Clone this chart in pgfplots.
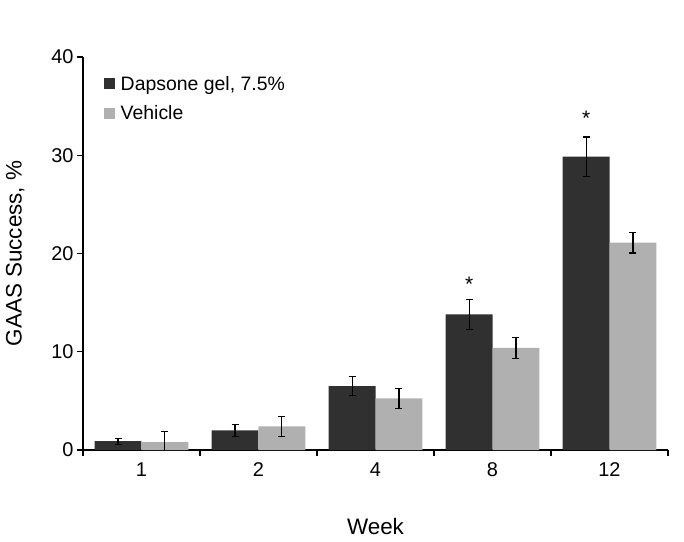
\documentclass[border=0pt]{standalone}
\usepackage{fontspec}
\setmainfont{Liberation Sans}
\usepackage{pgfplots}
\pgfplotsset{compat=1.18}
\definecolor{darkbar}{HTML}{303030}
\definecolor{lightbar}{HTML}{B0B0B0}

\begin{document}
\begin{tikzpicture}
\path[use as bounding box] (-83bp,-92bp) rectangle (601bp,450bp);
\begin{axis}[
    scale only axis, width=585bp, height=393bp,
    ybar=0pt, bar width=0.4,
    xmin=-0.5, xmax=4.5, ymin=0, ymax=40,
    axis x line*=bottom, axis y line*=left,
    xtick={0,1,2,3,4}, xticklabels={1,2,4,8,12},
    major x tick style={draw=none},
    minor xtick={-0.5,0.5,1.5,2.5,3.5,4.5},
    ytick={0,10,20,30,40},
    tick align=outside, major tick length=6bp, minor tick length=6bp,
    every tick/.style={black, line width=1.2bp},
    axis line style={black, line width=1.4bp},
    /pgf/number format/assume math mode=true,
    tick label style={font=\fontsize{20}{23}\selectfont},
    xticklabel style={yshift=-3bp},
    ylabel={GAAS Success, \%},
    xlabel={Week},
    label style={font=\fontsize{22.5}{26}\selectfont},
    ylabel style={at={(axis description cs:-0.116,0.5)}, anchor=center},
    xlabel style={at={(axis description cs:0.5,-0.194)}, anchor=center},
    legend style={at={(axis description cs:0.03,0.962)}, anchor=north west,
      draw=none, fill=none, font=\fontsize{19.5}{22}\selectfont,
      row sep=10bp, cells={anchor=west}},
    legend image code/.code={\fill[#1] (0bp,-5.5bp) rectangle (11bp,5.5bp); \path (15bp,0bp);},
    error bars/y dir=both, error bars/y explicit,
    error bars/error bar style={black, line width=1.2bp},
    error bars/error mark options={rotate=90, mark size=3.5bp, line width=1.2bp, black},
  ]
  \addplot[fill=darkbar, draw=none] coordinates {
    (0,0.9) +- (0,0.3)
    (1,2.0) +- (0,0.6)
    (2,6.5) +- (0,0.95)
    (3,13.8) +- (0,1.55)
    (4,29.85) +- (0,2.0)
  };
  \addplot[fill=lightbar, draw=none] coordinates {
    (0,0.8) +- (0,1.05)
    (1,2.4) +- (0,1.0)
    (2,5.25) +- (0,1.0)
    (3,10.4) +- (0,1.05)
    (4,21.1) +- (0,1.05)
  };
  \legend{{Dapsone gel, 7.5\%}, Vehicle}
  \node[font=\fontsize{21}{24}\selectfont, anchor=base] at (axis cs:2.8,16.1) {*};
  \node[font=\fontsize{21}{24}\selectfont, anchor=base] at (axis cs:3.8,33.0) {*};
\end{axis}
\end{tikzpicture}
\end{document}
